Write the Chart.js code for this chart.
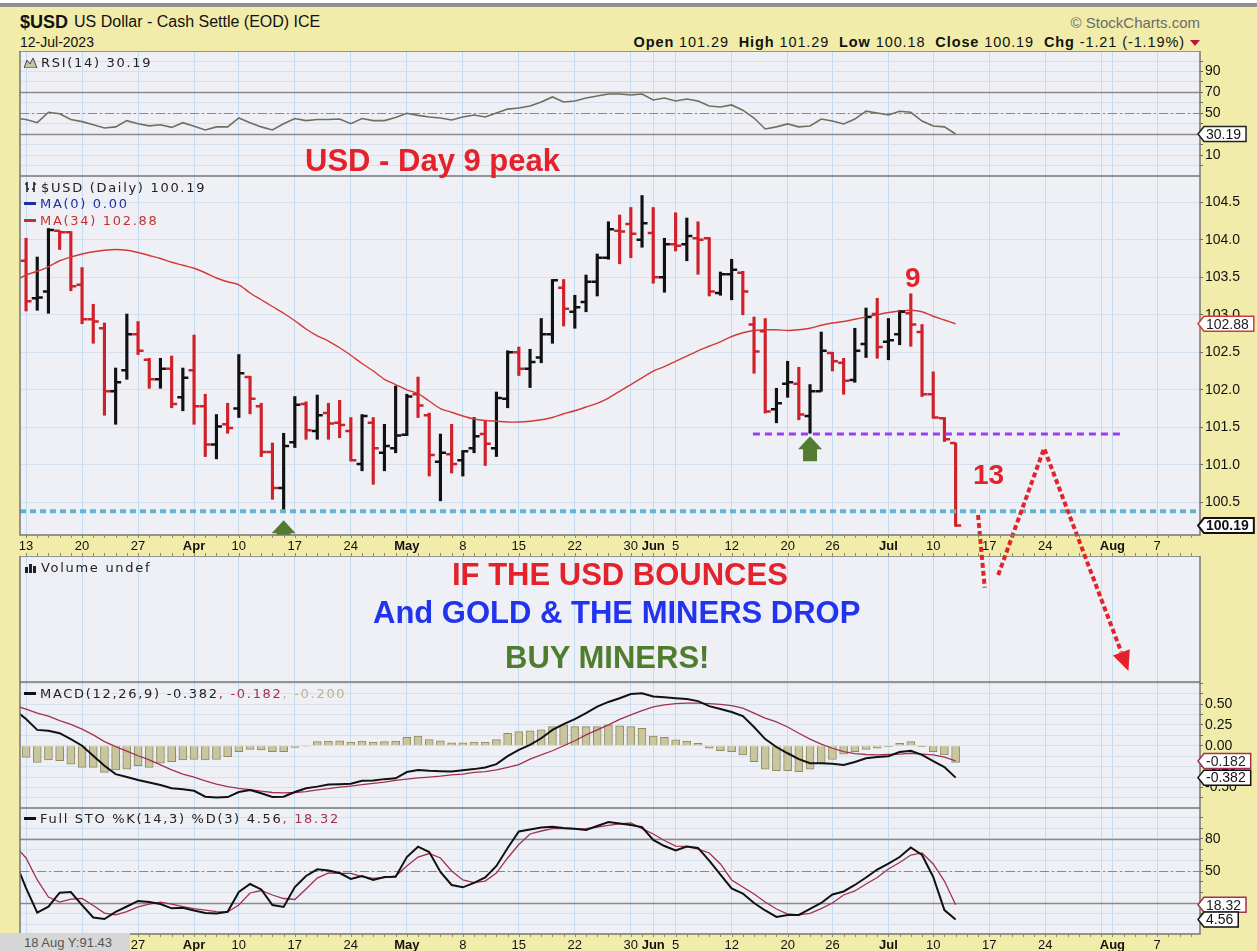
<!DOCTYPE html>
<html lang="en">
<head>
<meta charset="UTF-8">
<title>$USD - US Dollar Cash Settle</title>
<script src="https://cdn.jsdelivr.net/npm/chart.js"></script>
<style>
  html, body { margin: 0; padding: 0; }
  body { width: 1257px; height: 951px; position: relative; overflow: hidden; background: #f1eca9;
         font-family: "Liberation Sans", Arial, sans-serif; color: #111; }
  canvas { position: absolute; left: 0; }
  .t { position: absolute; white-space: nowrap; line-height: 1; z-index: 5; }
  .leg { position: absolute; white-space: nowrap; line-height: 1; z-index: 5; font-family: "DejaVu Sans", sans-serif;
         font-size: 13px; letter-spacing: 1.7px; color: #222; }
  .big { position: absolute; white-space: nowrap; line-height: 1; z-index: 5; font-weight: bold; font-size: 31px; }
  .dash { display: inline-block; width: 12px; height: 3px; vertical-align: middle; margin-right: 4px; position: relative; top: -1px; }
</style>
</head>
<body>
  <div style="position:absolute;left:0;top:0;width:1257px;height:3px;background:#fff"></div>
  <div style="position:absolute;left:0;top:3px;width:1257px;height:4px;background:#8f8f8f"></div>

  <div class="t" style="left:20px;top:13px;font-size:18px;font-weight:bold">$USD</div>
  <div class="t" style="left:74px;top:14px;font-size:16px">US Dollar - Cash Settle (EOD) ICE</div>
  <div class="t" style="left:20px;top:35px;font-size:14px">12-Jul-2023</div>
  <div class="t" style="right:57px;top:15px;font-size:15px;color:#6b6b6b">&copy; StockCharts.com</div>
  <div class="t" style="right:72px;top:35px;font-size:14.5px;letter-spacing:0.9px"><b>Open</b> 101.29 &nbsp;<b>High</b> 101.29 &nbsp;<b>Low</b> 100.18 &nbsp;<b>Close</b> 100.19 &nbsp;<b>Chg</b> -1.21 (-1.19%)</div>
  <div style="position:absolute;left:1190px;top:40px;width:0;height:0;border-left:5px solid transparent;border-right:5px solid transparent;border-top:6px solid #c0143c"></div>

  <canvas id="rsiChart" width="1257" height="125" style="top:51px"></canvas>
  <canvas id="volChart" width="1257" height="126" style="top:556px;z-index:1"></canvas>
  <canvas id="priceChart" width="1257" height="506" style="top:176px;z-index:2"></canvas>
  <canvas id="macdChart" width="1257" height="126" style="top:682px"></canvas>
  <canvas id="stoChart" width="1257" height="143" style="top:808px"></canvas>

  <div class="leg" style="left:24px;top:56px"><svg width="14" height="11" style="vertical-align:-1px;margin-right:3px"><path d="M0 11 L3 3 L6 7 L9 1 L13 11 Z" fill="#c8c6a2" stroke="#444" stroke-width="1"/></svg>RSI(14) 30.19</div>
  <div class="leg" style="left:24px;top:181px"><svg width="14" height="12" style="vertical-align:-1px;margin-right:3px"><path d="M3 1 V11 M1 3 H3 M3 8 H5 M10 1 V11 M8 8 H10 M10 3 H12" stroke="#222" stroke-width="1.6" fill="none"/></svg>$USD (Daily) 100.19</div>
  <div class="leg" style="left:24px;top:197px;color:#1f2f9c"><span class="dash" style="background:#1f2f9c"></span>MA(0) 0.00</div>
  <div class="leg" style="left:24px;top:214px;color:#c8302f"><span class="dash" style="background:#c8302f"></span>MA(34) 102.88</div>
  <div class="leg" style="left:24px;top:561px"><svg width="14" height="11" style="vertical-align:-1px;margin-right:3px"><path d="M1 11 V5 H4 V11 Z M5 11 V2 H8 V11 Z M9 11 V4 H12 V11 Z" fill="#222"/></svg>Volume undef</div>
  <div class="leg" style="left:24px;top:687px"><span class="dash" style="background:#111"></span>MACD(12,26,9) -0.382<span style="color:#a3304f">, -0.182</span><span style="color:#b7b38b">, -0.200</span></div>
  <div class="leg" style="left:24px;top:812px"><span class="dash" style="background:#111"></span>Full STO %K(14,3) %D(3) 4.56<span style="color:#a3304f">, 18.32</span></div>

  <div class="big" style="left:305px;top:145px;color:#e3222b">USD - Day 9 peak</div>
  <div class="big" style="left:905px;top:264px;font-size:28px;color:#e3222b">9</div>
  <div class="big" style="left:973px;top:461px;font-size:28px;color:#e3222b">13</div>
  <div class="big" style="left:452px;top:559px;color:#e3222b">IF THE USD BOUNCES</div>
  <div class="big" style="left:373px;top:597px;color:#2233ee">And GOLD &amp; THE MINERS DROP</div>
  <div class="big" style="left:505px;top:642px;color:#4f7d2e">BUY MINERS!</div>

  <div class="t" style="left:0;top:933px;width:130px;height:18px;background:#d6d6d6;font-size:13px;color:#555;line-height:20px;padding-left:24px;box-sizing:border-box">18 Aug Y:91.43</div>

<script>
// ---------- data ----------
// x positions are trading-day indexes: 0 = 13 Mar 2023, 83 = 12 Jul 2023
const tickIdx  = [0, 5, 10, 15, 19, 24, 29, 34, 39, 44, 49, 54, 56, 58, 63, 68, 72, 77, 81, 86, 91, 96, 97, 101];
const tickText = ['13','20','27','Apr','10','17','24','May','8','15','22','30','Jun','5','12','20','26','Jul','10','17','24','','Aug','7'];
const monthText = ['Apr', 'May', 'Jun', 'Jul', 'Aug'];

const open = [103.72,103.22,103.31,104.12,104.10,103.40,102.94,102.82,101.98,102.26,
  102.74,102.40,102.14,102.28,101.90,102.26,101.78,101.27,101.54,101.75,
  102.17,101.78,101.17,100.69,101.30,101.81,101.45,101.69,101.56,101.45,
  101.01,101.56,101.16,101.22,101.40,101.94,101.66,101.04,101.14,101.06,
  101.22,101.41,101.22,101.88,102.50,102.28,102.43,102.74,103.36,103.04,
  103.17,103.44,103.76,104.12,104.21,104.00,104.09,103.50,103.94,103.94,
  104.02,104.02,103.29,103.54,103.56,102.87,102.78,101.74,102.08,102.08,
  101.65,101.98,102.49,102.36,102.13,102.61,103.01,102.64,102.74,103.02,
  102.77,101.94,101.62,101.29];
const high = [104.02,103.77,104.15,104.12,104.11,103.63,103.14,102.89,102.29,103.01,
  102.91,102.42,102.42,102.45,102.29,102.73,101.94,101.67,101.82,102.47,
  102.18,101.82,101.29,101.42,101.91,101.84,101.93,101.82,101.86,101.63,
  101.67,101.63,101.54,102.05,101.94,102.17,101.69,101.41,101.54,101.19,
  101.63,101.59,101.97,102.52,102.57,102.54,102.95,103.47,103.47,103.26,
  103.53,103.81,104.24,104.33,104.43,104.59,104.43,104.02,104.36,104.29,
  104.24,104.03,103.57,103.74,103.58,102.97,102.95,102.02,102.38,102.30,
  102.07,102.77,102.50,102.42,102.82,103.09,103.22,102.95,103.06,103.28,
  102.87,102.24,101.63,101.29];
const low = [103.05,103.06,103.02,103.87,103.32,102.88,102.62,101.66,101.54,102.14,
  102.47,102.02,102.02,101.76,101.72,101.54,101.11,101.08,101.42,101.63,
  101.68,101.11,100.54,100.40,101.23,101.34,101.34,101.34,101.36,101.05,
  100.92,100.74,100.92,101.16,101.39,101.63,100.85,100.52,100.89,100.85,
  101.16,100.99,101.11,101.76,102.19,102.03,102.36,102.62,102.85,102.82,
  103.04,103.25,103.74,103.68,103.76,103.90,103.42,103.30,103.85,103.72,
  103.54,103.25,103.26,103.20,103.00,102.22,101.69,101.56,101.90,101.60,
  101.42,101.98,102.25,101.94,102.10,102.43,102.42,102.40,102.60,102.58,
  101.91,101.62,101.31,100.18];
const close = [103.18,103.23,104.13,104.10,103.38,102.94,102.91,101.98,102.10,102.74,
  102.52,102.14,102.28,101.81,102.16,101.78,101.27,101.51,101.49,102.22,
  101.88,101.17,100.69,101.25,101.80,101.46,101.66,101.55,101.53,101.06,
  101.65,101.22,101.25,101.39,101.91,101.79,101.13,101.16,101.01,101.18,
  101.38,101.28,101.89,102.50,102.28,102.37,102.74,103.46,103.08,103.10,
  103.44,103.76,104.14,104.11,104.08,104.22,103.50,103.94,103.92,104.05,
  104.00,103.31,103.54,103.60,103.31,102.51,101.71,101.82,102.10,101.67,
  101.98,102.52,102.38,102.12,102.52,102.97,102.57,102.66,103.04,102.87,
  101.94,101.63,101.34,100.19];

// indicator lines start one session earlier (10 Mar, index -1)
const IND_START = -1;
const ma34 = [103.45,103.53,103.58,103.64,103.72,103.77,103.81,103.84,103.86,103.87,103.86,
  103.83,103.79,103.75,103.70,103.66,103.62,103.56,103.49,103.44,103.40,
  103.29,103.20,103.11,103.02,102.92,102.81,102.72,102.65,102.56,102.46,
  102.35,102.25,102.14,102.07,102.00,101.95,101.85,101.75,101.70,101.65,
  101.61,101.59,101.58,101.57,101.57,101.58,101.60,101.63,101.68,101.72,
  101.77,101.82,101.89,101.98,102.07,102.16,102.25,102.31,102.38,102.45,
  102.52,102.58,102.64,102.71,102.76,102.79,102.80,102.80,102.79,102.80,
  102.82,102.86,102.89,102.91,102.94,102.97,103.00,103.03,103.05,103.06,
  103.04,102.98,102.93,102.88];
const rsi = [45.5,44,41,51,49.5,44,42,39,36,37,43,
  40,38,39,36.5,41,37.5,34,37,37,45.5,
  41,37,34,40,45,43,44,44,44.5,40,
  45,43,43,46,50,48,46.5,45.5,43.6,46.5,
  48.4,46.5,50.3,54,55,57,60.8,65.6,60.8,61.8,
  64.6,66.6,68.5,68.5,67.5,68.5,62.7,64.6,61.8,63.7,
  61.8,57,56,58,53,45.5,35,37,39.8,37,
  37.8,44.5,42.6,39.8,44.5,52,50.3,48.4,52,51,
  42.6,37.8,37,30.19];
const macdLine = [0.43,0.32,0.19,0.18,0.15,0.08,0.00,-0.12,-0.24,-0.34,-0.375,
  -0.41,-0.44,-0.47,-0.51,-0.52,-0.54,-0.61,-0.62,-0.615,-0.555,
  -0.53,-0.57,-0.615,-0.61,-0.555,-0.51,-0.49,-0.465,-0.46,-0.455,
  -0.42,-0.415,-0.40,-0.39,-0.315,-0.29,-0.30,-0.305,-0.31,-0.295,
  -0.28,-0.26,-0.22,-0.125,-0.05,0.01,0.09,0.19,0.26,0.32,
  0.39,0.47,0.525,0.57,0.62,0.63,0.59,0.58,0.57,0.56,
  0.535,0.475,0.44,0.405,0.355,0.225,0.08,-0.015,-0.09,-0.16,
  -0.21,-0.21,-0.215,-0.23,-0.195,-0.15,-0.135,-0.125,-0.075,-0.06,
  -0.11,-0.185,-0.255,-0.382];
const macdSignal = [0.48,0.44,0.39,0.355,0.30,0.255,0.20,0.13,0.05,-0.01,-0.065,
  -0.12,-0.17,-0.23,-0.29,-0.34,-0.375,-0.42,-0.46,-0.49,-0.51,
  -0.525,-0.545,-0.56,-0.565,-0.56,-0.55,-0.53,-0.515,-0.495,-0.485,
  -0.465,-0.45,-0.435,-0.415,-0.40,-0.385,-0.375,-0.365,-0.35,-0.34,
  -0.32,-0.31,-0.29,-0.26,-0.225,-0.16,-0.11,-0.06,0.00,0.06,
  0.13,0.19,0.25,0.315,0.37,0.42,0.465,0.49,0.505,0.51,
  0.51,0.505,0.495,0.48,0.45,0.39,0.33,0.285,0.225,0.15,
  0.08,0.02,-0.03,-0.07,-0.095,-0.105,-0.11,-0.105,-0.10,-0.09,
  -0.10,-0.11,-0.135,-0.182];
// histogram starts at 13 Mar (index 0)
const macdHist = [-0.14,-0.20,-0.17,-0.18,-0.22,-0.26,-0.26,-0.32,-0.29,-0.28,
  -0.24,-0.26,-0.21,-0.19,-0.17,-0.165,-0.17,-0.165,-0.13,-0.07,
  -0.045,-0.05,-0.07,-0.07,-0.02,-0.005,0.05,0.055,0.06,0.045,
  0.055,0.045,0.05,0.055,0.10,0.115,0.075,0.06,0.035,0.035,
  0.045,0.045,0.075,0.15,0.17,0.18,0.19,0.23,0.25,0.23,
  0.23,0.23,0.25,0.24,0.23,0.21,0.115,0.10,0.07,0.055,
  0.03,-0.03,-0.06,-0.07,-0.11,-0.19,-0.28,-0.30,-0.30,-0.31,
  -0.28,-0.21,-0.165,-0.10,-0.07,-0.045,-0.03,-0.01,0.03,0.05,
  -0.01,-0.07,-0.11,-0.20];
const stoK = [60,34,10.9,16.5,29.7,30.3,18.1,6.4,5,11.6,16.7,
  21.9,20.9,19,15,15.6,13,10.6,10.2,11.8,30.3,
  37.8,32.7,18.1,16.3,35,45.3,51.6,50.5,48.1,42.5,
  45.3,41.6,44.4,44.7,63.1,72.8,67.8,49.1,36.9,34.7,
  38.8,43.9,54.7,71.6,87,88.9,90.8,91.5,90.3,89.7,
  88.4,92.2,95.9,94.5,93.1,91.2,79.1,73.4,69.2,73,
  71.6,59.8,46.7,33.6,28.9,20,13,6.9,8.8,8.8,
  14.4,20,28,30.8,36.9,43.9,51.4,57,63.1,72,
  65,44.4,13.4,4.56];
const stoD = [74,62.2,41.6,25.6,20.9,23.7,24.2,17.7,10.6,8.8,12,
  16.3,19,20.9,19,16.7,14.8,13.4,12,11.6,18.1,
  29.4,31.7,27.5,24.2,23.3,33.1,43.4,48.1,47.8,47.7,
  44.8,43,43.9,45.3,54.7,63.1,66.4,62.2,50,41.6,
  39.2,40.6,48.1,62.2,74.8,84.7,87.5,89.8,89.7,89.4,
  89.8,91.2,92.7,94.1,95,89.8,84.7,78.6,73.4,73,
  70.6,66.9,56.6,41.6,35,28.4,20.9,14.4,9.7,8.8,
  10.2,14.8,20,27.5,31.3,37.8,43.9,51.9,58,65,
  66.9,56.6,40.6,18.32];

// drawn-in annotations
const supportLow = 100.38;
const supportMid = 101.41, supportMidFrom = 64.9, supportMidTo = 97.9;
const projIdx   = [85.0, 85.6, 86.2, 86.8, 90.9, 97.8];
const projPrice = [100.33, 99.36, null, 99.53, 101.22, 98.50];
const arrowIdx = [23, 70];
const arrowPrice = [100.26, 101.38];

const priceTicks = [100.5, 101.0, 101.5, 102.0, 102.5, 103.0, 103.5, 104.0, 104.5];
const rsiTicks = [0, 10, 20, 30, 40, 50, 60, 70, 80, 90, 100];
const rsiLabels = [10, 30, 50, 70, 90];
const macdTicks = [-0.75, -0.625, -0.5, -0.375, -0.25, -0.125, 0, 0.125, 0.25, 0.375, 0.5, 0.625, 0.75];
const macdLabels = [-0.5, -0.25, 0, 0.25, 0.5];
const stoTicks = [0, 10, 20, 30, 40, 50, 60, 70, 80, 90, 100];
const stoLabels = [20, 50, 80];

// ---------- styling helpers ----------
const X_MIN = -0.54, X_MAX = 104.82;
const PANEL_BG = '#eff0f6';
const VGRID = '#c4dcef';
const HGRID = '#d5e1ee';
const RED = '#cf2129', BLACK = '#111111', MAROON = '#a3304f';
const AXIS_FONT = { family: '"Liberation Sans", Arial, sans-serif', size: 14 };

const barColor = i => (i === 0 ? close[0] < open[0] : close[i] < close[i - 1]) ? RED : BLACK;
const indPts = arr => arr.map((v, k) => ({ x: k + IND_START, y: v }));

function xAxis(showLabels, h) {
  return {
    type: 'linear', min: X_MIN, max: X_MAX, offset: false,
    afterBuildTicks: s => { s.ticks = tickIdx.map(v => ({ value: v })); },
    afterFit: s => { s.height = h; s.paddingLeft = 0; s.paddingRight = 0; },
    grid: { color: VGRID, lineWidth: 1, drawTicks: false, offset: false },
    border: { display: false },
    ticks: {
      display: showLabels, autoSkip: false, maxRotation: 0, minRotation: 0, padding: 4, color: '#111',
      font: c => ({ family: AXIS_FONT.family, size: 13, weight: monthText.includes(tickText[c.index]) ? 'bold' : 'normal' }),
      callback: (v, k) => tickText[k]
    }
  };
}

function yAxis(min, max, ticks, label) {
  return {
    position: 'right', min, max,
    afterBuildTicks: s => { s.ticks = ticks.map(v => ({ value: v })); },
    afterFit: s => { s.width = 57; s.paddingTop = 0; s.paddingBottom = 0; },
    grid: { color: HGRID, lineWidth: 1, drawTicks: true, tickLength: 3, tickColor: '#666' },
    border: { display: false },
    ticks: { display: !!label, autoSkip: false, padding: 2, color: '#111', crossAlign: 'near', font: AXIS_FONT,
             callback: v => (label ? label(v) : '') }
  };
}

function drawTag(ctx, x, y, text, border, color, bold) {
  ctx.save();
  ctx.font = (bold ? 'bold ' : '') + '14px "Liberation Sans", Arial, sans-serif';
  const w = ctx.measureText(text).width + 13, h = 15;
  ctx.beginPath();
  ctx.moveTo(x, y);
  ctx.lineTo(x + 6, y - h / 2);
  ctx.lineTo(x + w, y - h / 2);
  ctx.lineTo(x + w, y + h / 2);
  ctx.lineTo(x + 6, y + h / 2);
  ctx.closePath();
  ctx.fillStyle = '#ffffff';
  ctx.fill();
  ctx.lineWidth = bold ? 2 : 1.5;
  ctx.strokeStyle = border;
  ctx.stroke();
  ctx.fillStyle = color;
  ctx.textBaseline = 'middle';
  ctx.fillText(text, x + 8, y + 1);
  ctx.restore();
}

// panel background, border, reference lines, value tags, band ticks
function panel(cfg) {
  return {
    id: 'panel',
    beforeDraw(chart) {
      const { ctx, chartArea: a } = chart;
      ctx.save();
      ctx.fillStyle = PANEL_BG;
      ctx.fillRect(a.left, a.top, a.right - a.left, a.bottom - a.top);
      ctx.restore();
    },
    beforeDatasetsDraw(chart) {
      const { ctx, chartArea: a, scales: { y } } = chart;
      (cfg.refs || []).forEach(r => {
        const py = Math.round(y.getPixelForValue(r.v)) + 0.5;
        ctx.save();
        ctx.strokeStyle = '#8a8a8a';
        ctx.lineWidth = r.dash ? 1.2 : 1.5;
        ctx.setLineDash(r.dash || []);
        ctx.beginPath();
        ctx.moveTo(a.left, py);
        ctx.lineTo(a.right, py);
        ctx.stroke();
        ctx.restore();
      });
    },
    afterDraw(chart) {
      const { ctx, chartArea: a, scales: { x, y } } = chart;
      ctx.save();
      ctx.strokeStyle = '#767676';
      ctx.lineWidth = 1.5;
      ctx.strokeRect(a.left, a.top, a.right - a.left, a.bottom - a.top);
      if (cfg.band) {
        ctx.strokeStyle = '#8d8a66';
        ctx.lineWidth = 1;
        for (let i = 0; i <= 104; i++) {
          const px = Math.round(x.getPixelForValue(i)) + 0.5;
          ctx.beginPath();
          ctx.moveTo(px, a.bottom);
          ctx.lineTo(px, a.bottom + 3);
          if (cfg.band > 1) { ctx.moveTo(px, a.bottom + cfg.band - 3); ctx.lineTo(px, a.bottom + cfg.band); }
          ctx.stroke();
        }
      }
      ctx.restore();
      (cfg.tags || []).forEach(t => drawTag(ctx, a.right - 2, y.getPixelForValue(t.v), t.text, t.border, t.color, t.bold));
    }
  };
}

const ohlcTicks = {
  id: 'ohlcTicks',
  afterDatasetsDraw(chart) {
    const { ctx, chartArea: a, scales: { x, y } } = chart;
    ctx.save();
    ctx.beginPath();
    ctx.rect(a.left, a.top, a.right - a.left, a.bottom - a.top);
    ctx.clip();
    ctx.lineWidth = 2.5;
    close.forEach((c, i) => {
      const px = x.getPixelForValue(i);
      const po = y.getPixelForValue(open[i]), pc = y.getPixelForValue(c);
      ctx.strokeStyle = barColor(i);
      ctx.beginPath();
      ctx.moveTo(px - 5.5, po); ctx.lineTo(px, po);
      ctx.moveTo(px, pc); ctx.lineTo(px + 5.5, pc);
      ctx.stroke();
    });
    // green up arrows under the lows
    ctx.fillStyle = '#537c30';
    arrowIdx.forEach((ix, k) => {
      const px = x.getPixelForValue(ix), py = y.getPixelForValue(arrowPrice[k]);
      ctx.beginPath();
      ctx.moveTo(px, py);
      ctx.lineTo(px + 12, py + 13);
      ctx.lineTo(px + 7, py + 13);
      ctx.lineTo(px + 7, py + 25);
      ctx.lineTo(px - 7, py + 25);
      ctx.lineTo(px - 7, py + 13);
      ctx.lineTo(px - 12, py + 13);
      ctx.closePath();
      ctx.fill();
    });
    ctx.restore();
    // arrow head at the end of the projected path
    const n = projIdx.length - 1;
    const x1 = x.getPixelForValue(projIdx[n - 1]), y1 = y.getPixelForValue(projPrice[n - 1]);
    const x2 = x.getPixelForValue(projIdx[n]), y2 = y.getPixelForValue(projPrice[n]);
    const len = Math.hypot(x2 - x1, y2 - y1), ux = (x2 - x1) / len, uy = (y2 - y1) / len;
    ctx.save();
    ctx.fillStyle = '#e3222b';
    ctx.beginPath();
    ctx.moveTo(x2 + ux * 20, y2 + uy * 20);
    ctx.lineTo(x2 - uy * 9, y2 + ux * 9);
    ctx.lineTo(x2 + uy * 9, y2 - ux * 9);
    ctx.closePath();
    ctx.fill();
    ctx.restore();
  }
};

const base = {
  responsive: false, animation: false, devicePixelRatio: 1,
  plugins: { legend: { display: false }, tooltip: { enabled: false } },
  elements: { point: { radius: 0 }, line: { tension: 0 } }
};
const opts = (scales, padBottom) => Object.assign({}, base, {
  scales,
  layout: { padding: { left: 20, right: 0, top: 0, bottom: padBottom || 0 }, autoPadding: false }
});

// ---------- RSI ----------
new Chart(document.getElementById('rsiChart'), {
  type: 'line',
  data: { datasets: [{ data: indPts(rsi), borderColor: '#6f6f5f', borderWidth: 1.6 }] },
  options: opts({
    x: xAxis(false, 0),
    y: yAxis(-10, 109.6, rsiTicks, v => (rsiLabels.includes(v) ? String(v) : ''))
  }),
  plugins: [panel({
    refs: [{ v: 70 }, { v: 30 }, { v: 50, dash: [9, 3, 2, 3] }],
    tags: [{ v: rsi[rsi.length - 1], text: rsi[rsi.length - 1].toFixed(2), border: '#222', color: '#111' }]
  })]
});

// ---------- Price ----------
new Chart(document.getElementById('priceChart'), {
  type: 'line',
  data: {
    datasets: [
      { type: 'line', order: 0, data: projIdx.map((v, k) => ({ x: v, y: projPrice[k] })),
        borderColor: '#e3222b', borderWidth: 4, borderDash: [5, 3], spanGaps: false, clip: false },
      { type: 'line', order: 1, data: [{ x: X_MIN, y: supportLow }, { x: X_MAX, y: supportLow }],
        borderColor: '#5fb6d3', borderWidth: 4, borderDash: [6, 4] },
      { type: 'line', order: 1, data: [{ x: supportMidFrom, y: supportMid }, { x: supportMidTo, y: supportMid }],
        borderColor: '#9b3cf2', borderWidth: 3, borderDash: [7, 5] },
      { type: 'line', order: 2, data: indPts(ma34), borderColor: '#d23a3a', borderWidth: 1.4, tension: 0.3 },
      { type: 'bar', order: 3, data: low.map((l, i) => ({ x: i, y: [l, high[i]] })),
        backgroundColor: low.map((l, i) => barColor(i)), barThickness: 2.5, grouped: false }
    ]
  },
  options: opts({
    x: xAxis(true, 21),
    y: yAxis(100.064, 104.85, priceTicks, v => v.toFixed(1))
  }, 126),
  plugins: [panel({
    band: 21,
    tags: [
      { v: ma34[ma34.length - 1], text: ma34[ma34.length - 1].toFixed(2), border: '#d23a3a', color: '#222' },
      { v: close[close.length - 1], text: close[close.length - 1].toFixed(2), border: '#111', color: '#111', bold: true }
    ]
  }), ohlcTicks]
});

// ---------- Volume (empty) ----------
new Chart(document.getElementById('volChart'), {
  type: 'line',
  data: { datasets: [] },
  options: opts({ x: xAxis(false, 0), y: Object.assign(yAxis(0, 1, [], null), { grid: { display: false } }) }),
  plugins: [panel({})]
});

// ---------- MACD ----------
new Chart(document.getElementById('macdChart'), {
  type: 'line',
  data: {
    datasets: [
      { type: 'line', order: 0, data: indPts(macdLine), borderColor: BLACK, borderWidth: 2 },
      { type: 'line', order: 1, data: indPts(macdSignal), borderColor: MAROON, borderWidth: 1.3 },
      { type: 'bar', order: 2, data: macdHist.map((v, i) => ({ x: i, y: v })),
        backgroundColor: '#c9c59d', borderColor: '#8e8a62', borderWidth: 1, barThickness: 8 }
    ]
  },
  options: opts({
    x: xAxis(false, 0),
    y: yAxis(-0.746, 0.764, macdTicks, v => (macdLabels.includes(v) ? v.toFixed(2) : ''))
  }),
  plugins: [panel({
    tags: [
      { v: macdSignal[macdSignal.length - 1], text: macdSignal[macdSignal.length - 1].toFixed(3), border: MAROON, color: '#222' },
      { v: macdLine[macdLine.length - 1], text: macdLine[macdLine.length - 1].toFixed(3), border: '#111', color: '#111' }
    ]
  })]
});

// ---------- Full Stochastics ----------
new Chart(document.getElementById('stoChart'), {
  type: 'line',
  data: {
    datasets: [
      { data: indPts(stoK), borderColor: BLACK, borderWidth: 2 },
      { data: indPts(stoD), borderColor: MAROON, borderWidth: 1.3 }
    ]
  },
  options: opts({
    x: xAxis(true, 17),
    y: yAxis(-9.06, 109.06, stoTicks, v => (stoLabels.includes(v) ? String(v) : ''))
  }),
  plugins: [panel({
    band: 1,
    refs: [{ v: 80 }, { v: 20 }, { v: 50, dash: [9, 3, 2, 3] }],
    tags: [
      { v: stoD[stoD.length - 1], text: stoD[stoD.length - 1].toFixed(2), border: MAROON, color: '#222' },
      { v: stoK[stoK.length - 1], text: stoK[stoK.length - 1].toFixed(2), border: '#111', color: '#111' }
    ]
  })]
});
</script>
</body>
</html>
